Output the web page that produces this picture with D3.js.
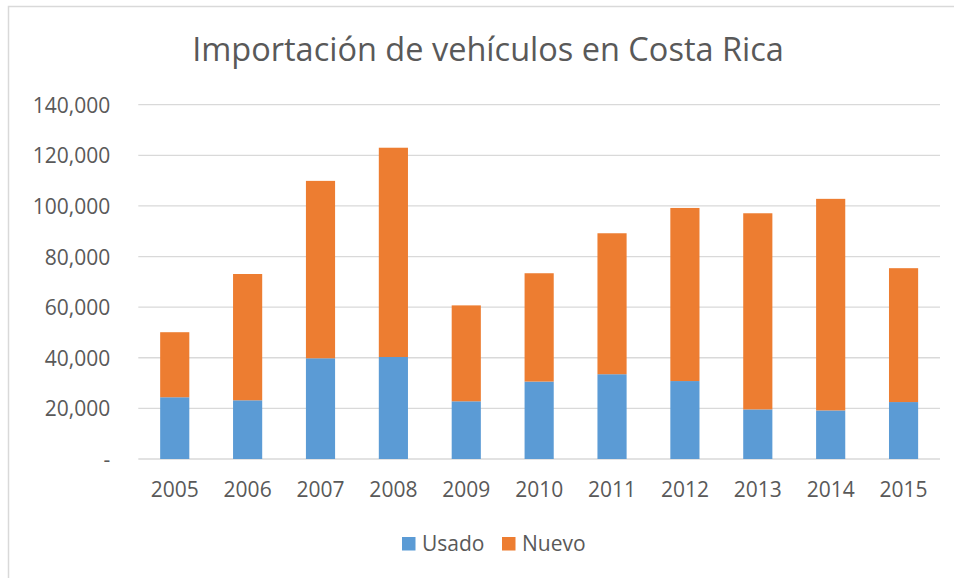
<!DOCTYPE html>
<html>
<head>
<meta charset="utf-8">
<script src="https://cdn.jsdelivr.net/npm/d3@7"></script>
<style>
  body { margin: 0; background: #fff; }
  text { font-family: "Open Sans", sans-serif; fill: #595959; }
</style>
</head>
<body>
<div id="chart"></div>
<script>
// Data
var years = ["2005", "2006", "2007", "2008", "2009", "2010", "2011", "2012", "2013", "2014", "2015"];
var usado = [24400, 23200, 39800, 40300, 22800, 30600, 33500, 30800, 19600, 19200, 22500];
var nuevo = [25700, 49900, 70100, 82700, 37900, 42800, 55700, 68400, 77500, 83600, 52900];
var seriesNames = ["Usado", "Nuevo"];
var colors = ["#5B9BD5", "#ED7D31"];
var yTicks = [0, 20000, 40000, 60000, 80000, 100000, 120000, 140000];

// Chart Params
var svgWidth = 954;
var svgHeight = 578;
var margin = { top: 104.7, right: 14, bottom: 119, left: 138.3 };
var width = svgWidth - margin.left - margin.right;
var height = svgHeight - margin.top - margin.bottom;

var svg = d3.select("#chart")
  .append("svg")
  .attr("width", svgWidth)
  .attr("height", svgHeight);

// chart border
svg.append("rect")
  .attr("x", 8.5)
  .attr("y", 6.5)
  .attr("width", svgWidth + 20)
  .attr("height", svgHeight + 20)
  .attr("fill", "none")
  .attr("stroke", "#d9d9d9")
  .attr("stroke-width", 1.5);

var chartGroup = svg.append("g")
  .attr("transform", `translate(${margin.left}, ${margin.top})`);

var table = years.map(function(y, i) {
  return { year: y, Usado: usado[i], Nuevo: nuevo[i] };
});
var stacked = d3.stack().keys(seriesNames)(table);

var xScale = d3.scaleBand()
  .domain(years)
  .range([0, width])
  .paddingInner(0.6)
  .paddingOuter(0.3);

var yScale = d3.scaleLinear()
  .domain([0, 140000])
  .range([height, 0]);

// gridlines
chartGroup.selectAll(".grid").data(yTicks)
  .enter()
  .append("line")
  .attr("x1", 0)
  .attr("x2", width)
  .attr("y1", d => yScale(d))
  .attr("y2", d => yScale(d))
  .attr("stroke", "#d9d9d9")
  .attr("stroke-width", 1.3);

// y axis labels
var yAxis = d3.axisLeft(yScale)
  .tickValues(yTicks)
  .tickSize(0)
  .tickPadding(28)
  .tickFormat(d => d === 0 ? "-" : d3.format(",")(d));

chartGroup.append("g")
  .call(yAxis)
  .call(g => g.select(".domain").remove())
  .selectAll("text")
  .attr("dy", "0.36em")
  .style("font-size", "21px")
  .style("fill", "#595959");

// x axis labels
var xAxis = d3.axisBottom(xScale).tickSize(0).tickPadding(23);
chartGroup.append("g")
  .attr("transform", `translate(0, ${height})`)
  .call(xAxis)
  .call(g => g.select(".domain").remove())
  .selectAll("text")
  .style("font-size", "21px")
  .style("fill", "#595959");

// stacked bars
chartGroup.selectAll(".series").data(stacked)
  .enter()
  .append("g")
  .attr("fill", (d, i) => colors[i])
  .selectAll("rect")
  .data(d => d)
  .enter()
  .append("rect")
  .attr("x", d => xScale(d.data.year))
  .attr("y", d => yScale(d[1]))
  .attr("width", xScale.bandwidth())
  .attr("height", d => yScale(d[0]) - yScale(d[1]));

// title
svg.append("text")
  .attr("x", 488)
  .attr("y", 61)
  .attr("text-anchor", "middle")
  .style("font-size", "32.5px")
  .style("font-weight", 400)
  .text("Importación de vehículos en Costa Rica");

// legend
var legendX = [402, 502];
var legend = svg.selectAll(".legend").data(seriesNames)
  .enter()
  .append("g")
  .attr("transform", (d, i) => `translate(${legendX[i]}, 537)`);

legend.append("rect")
  .attr("width", 13.5)
  .attr("height", 13.5)
  .attr("fill", (d, i) => colors[i]);

legend.append("text")
  .attr("x", 20)
  .attr("y", 13.5)
  .style("font-size", "21px")
  .text(d => d);
</script>
</body>
</html>
